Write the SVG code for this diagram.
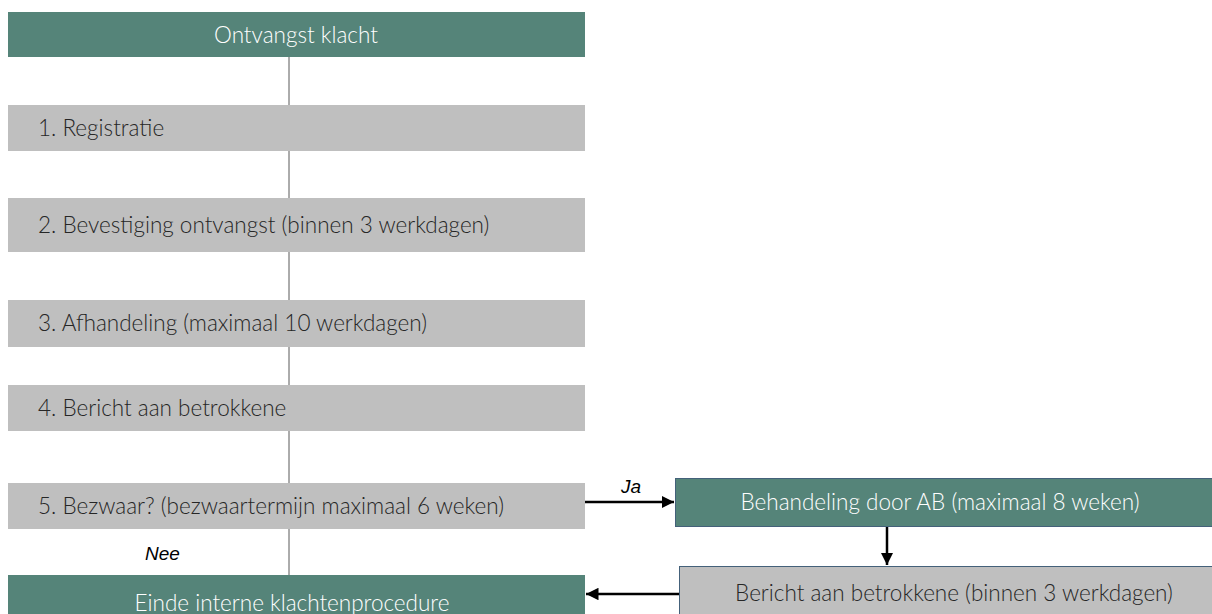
<svg xmlns="http://www.w3.org/2000/svg" width="1212" height="614" viewBox="0 0 1212 614">
<defs>
<style>
.green{fill:#558479}
.gray{fill:#bfbfbf}
.bord{stroke:#44617a;stroke-width:1}
.t{font-family:Lato,"Open Sans",sans-serif;font-size:22.5px;font-weight:300}
.w{fill:#ffffff}
.d{fill:#262626}
.i{font-family:"Liberation Sans",Arial,sans-serif;font-style:italic;font-size:19px;fill:#000}
.vl{stroke:#595959;stroke-width:1;fill:none}
.ar{stroke:#000;stroke-width:2.5;fill:none}
</style>
<marker id="ah" viewBox="0 0 10 10" refX="10" refY="5" markerWidth="5" markerHeight="5" markerUnits="strokeWidth" orient="auto">
<path d="M0,0 L10,5 L0,10 Z" fill="#000"/>
</marker>
</defs>
<rect width="1212" height="614" fill="#ffffff"/>
<g id="connectors">
<line class="vl" x1="289" y1="57" x2="289" y2="105"/>
<line class="vl" x1="289" y1="151" x2="289" y2="198"/>
<line class="vl" x1="289" y1="252" x2="289" y2="300"/>
<line class="vl" x1="289" y1="347" x2="289" y2="385"/>
<line class="vl" x1="289" y1="431" x2="289" y2="483"/>
<line class="vl" x1="289" y1="529" x2="289" y2="575"/>
<line class="ar" x1="585" y1="502" x2="674" y2="502" marker-end="url(#ah)"/>
<line class="ar" x1="887" y1="527" x2="887" y2="565" marker-end="url(#ah)"/>
<line class="ar" x1="679" y1="594" x2="586" y2="594" marker-end="url(#ah)"/>
<text class="i" x="621" y="493">Ja</text>
<text class="i" x="145" y="560">Nee</text>
</g>
<g id="n0">
<rect class="green" x="8" y="12" width="577" height="45"/>
<text class="t w" x="296" y="43" text-anchor="middle">Ontvangst klacht</text>
</g>
<g id="n1">
<rect class="gray" x="8" y="105" width="577" height="46"/>
<text class="t d" x="38" y="136">1. Registratie</text>
</g>
<g id="n2">
<rect class="gray" x="8" y="198" width="577" height="54"/>
<text class="t d" x="38" y="233">2. Bevestiging ontvangst (binnen 3 werkdagen)</text>
</g>
<g id="n3">
<rect class="gray" x="8" y="300" width="577" height="47"/>
<text class="t d" x="38" y="331">3. Afhandeling (maximaal 10 werkdagen)</text>
</g>
<g id="n4">
<rect class="gray" x="8" y="385" width="577" height="46"/>
<text class="t d" x="38" y="416">4. Bericht aan betrokkene</text>
</g>
<g id="n5">
<rect class="gray" x="8" y="483" width="577" height="46"/>
<text class="t d" x="38" y="514">5. Bezwaar? (bezwaartermijn maximaal 6 weken)</text>
</g>
<g id="n6">
<rect class="green" x="8" y="575" width="577" height="45"/>
<text class="t w" x="292" y="611" text-anchor="middle">Einde interne klachtenprocedure</text>
</g>
<g id="n7">
<rect class="green bord" x="675.5" y="478.5" width="540" height="48"/>
<text class="t w" x="940" y="510" text-anchor="middle">Behandeling door AB (maximaal 8 weken)</text>
</g>
<g id="n8">
<rect class="gray bord" x="679.5" y="566.5" width="540" height="52"/>
<text class="t d" x="954" y="601" text-anchor="middle">Bericht aan betrokkene (binnen 3 werkdagen)</text>
</g>
</svg>
